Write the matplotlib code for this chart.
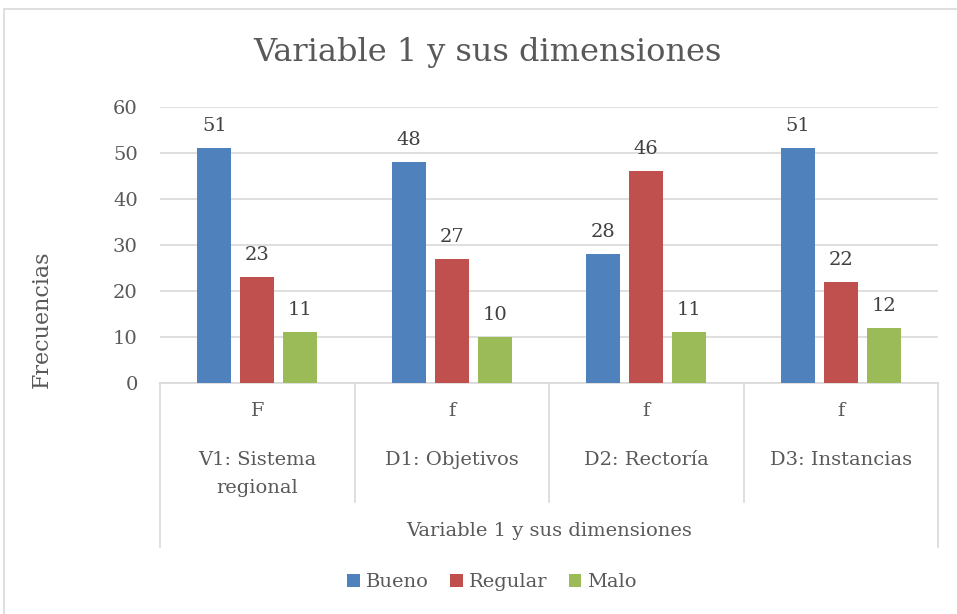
import matplotlib
matplotlib.use("Agg")
import matplotlib.pyplot as plt
import matplotlib.transforms as mtransforms
from matplotlib.patches import Rectangle
from matplotlib.lines import Line2D
import numpy as np

title = "Variable 1 y sus dimensiones"
categories = ["V1: Sistema\nregional", "D1: Objetivos", "D2: Rectoría", "D3: Instancias"]
sub_labels = ["F", "f", "f", "f"]
series_names = ["Bueno", "Regular", "Malo"]
bueno = [51, 48, 28, 51]
regular = [23, 27, 46, 22]
malo = [11, 10, 11, 12]
yticks = [0, 10, 20, 30, 40, 50, 60]
ylabel = "Frecuencias"
xlabel = "Variable 1 y sus dimensiones"

colors = ["#4F81BD", "#C0504D", "#9BBB59"]
txt = "#595959"
grid = "#D9D9D9"
FONT = "DejaVu Serif"
plt.rcParams["font.family"] = [FONT]

W, H = 957, 614
fig = plt.figure(figsize=(W / 100, H / 100), dpi=100)

def fx(px):
    return px / W

def fy(py):
    return 1 - py / H

# chart border (top & left visible)
fig.patches.append(Rectangle((fx(4), fy(H + 5)), fx(W + 5) - fx(4), fy(9) - fy(H + 5),
                             transform=fig.transFigure, fill=False, ec=grid, lw=1.2))

left, right, top, bottom = 160, 938, 107, 383
ax = fig.add_axes([fx(left), fy(bottom), fx(right) - fx(left), fy(top) - fy(bottom)])

x = np.arange(len(categories))
bw = 0.175
step = 0.22
for i, (vals, name) in enumerate(zip([bueno, regular, malo], series_names)):
    pos = x + (i - 1) * step
    bars = ax.bar(pos, vals, width=bw, color=colors[i], label=name, zorder=3)
    for b, v in zip(bars, vals):
        ax.annotate(str(v), (b.get_x() + b.get_width() / 2, v), xytext=(0, 9.5),
                    textcoords="offset points", ha="center", va="bottom",
                    fontsize=14, color="#404040")

ax.set_xlim(-0.5, len(categories) - 0.5)
ax.set_ylim(0, 60)
ax.set_yticks(yticks)
ax.set_yticklabels([str(t) for t in yticks], fontsize=14, color=txt)
ax.tick_params(axis="y", length=0, pad=16)
ax.set_xticks([])
ax.yaxis.grid(True, color=grid, lw=1.2, zorder=0)
for s in ["top", "right", "left"]:
    ax.spines[s].set_visible(False)
ax.spines["bottom"].set_color(grid)
ax.spines["bottom"].set_linewidth(1.2)

# multi-level category axis
trans = mtransforms.blended_transform_factory(ax.transData, fig.transFigure)
bounds = np.arange(len(categories) + 1) - 0.5
for k, b in enumerate(bounds):
    end = 547 if k in (0, len(bounds) - 1) else 502
    ax.add_line(Line2D([b, b], [fy(bottom), fy(end)], transform=trans, color=grid,
                       lw=1.2, clip_on=False))
for xi, sl, cat in zip(x, sub_labels, categories):
    ax.text(xi, fy(411), sl, transform=trans, ha="center", va="center",
            fontsize=14, color=txt)
    lines = cat.split("\n")
    for j, ln in enumerate(lines):
        ax.text(xi, fy(460 + 28 * j), ln, transform=trans, ha="center", va="center",
                fontsize=14, color=txt)
fig.text(fx((left + right) / 2), fy(531), xlabel, ha="center", va="center",
         fontsize=14, color=txt)

fig.text(fx(42), fy(319), ylabel, rotation=90, ha="center", va="center",
         fontsize=16, color=txt)
fig.text(fx(487), fy(52), title, ha="center", va="center", fontsize=23, color=txt)

leg = fig.legend(loc="center", bbox_to_anchor=(fx(492), fy(582)), ncol=3, frameon=False,
                 fontsize=14, handlelength=0.65, handleheight=0.65, handletextpad=0.3,
                 columnspacing=1.1)
for t in leg.get_texts():
    t.set_color(txt)

fig.savefig("out.png", dpi=100)
